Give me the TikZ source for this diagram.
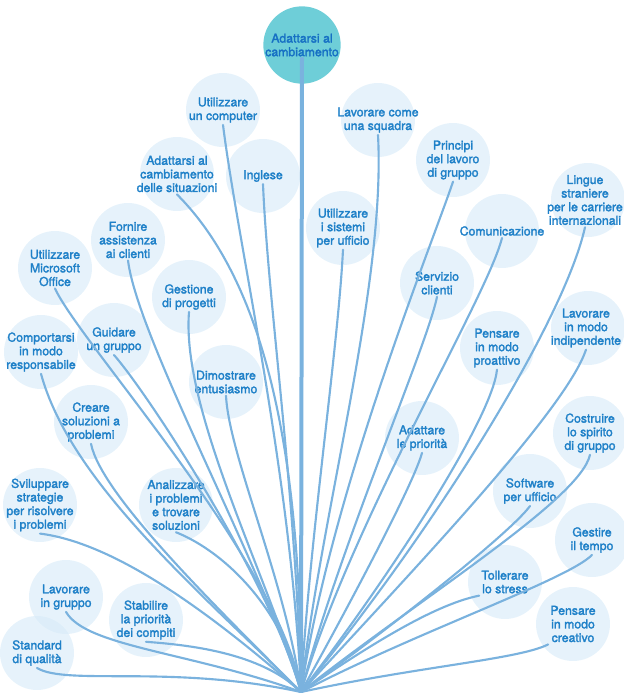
\documentclass[tikz,border=0pt]{standalone}
\usepackage{fontspec}
\setmainfont{TeX Gyre Heros}
\newfontfamily\bubblefont{TeX Gyre Heros}[FakeBold=2]
\usepackage{tikz}

\definecolor{bubblefill}{RGB}{214,234,248}
\definecolor{twigblue}{RGB}{122,178,222}
\definecolor{labelblue}{RGB}{30,128,200}
\definecolor{rootteal}{RGB}{110,206,216}
\definecolor{rootlabel}{RGB}{22,112,196}

\tikzset{
  bubble/.style={circle, fill=bubblefill, fill opacity=0.6, minimum size=55.5pt, inner sep=0pt},
  topbubble/.style={circle, fill=rootteal, minimum size=58pt, inner sep=0pt},
  caption/.style={align=center, text=labelblue, inner sep=1.5pt, font=\bubblefont\fontsize{9.2}{10.2}\selectfont},
  twig/.style={draw=twigblue, line width=1.6pt, line cap=round},
}

\begin{document}
\begin{tikzpicture}[x=0.75pt,y=0.75pt,yscale=-1,xscale=1]
\useasboundingbox (0,0) rectangle (624,693);

\coordinate (root) at (301,692);

%Shape: Circle
\node[topbubble] (adapt) at (302,45) {};
\node[bubble] (comp) at (223,110) {};
\node[bubble] (sit) at (177,174) {};
\node[bubble] (engl) at (263,176) {};
\node[bubble] (squad) at (378,120) {};
\node[bubble] (princ) at (453,160) {};
\node[bubble] (ling) at (588,200) {};
\node[bubble] (assist) at (128,240) {};
\node[bubble] (sist) at (343,228) {};
\node[bubble] (comun) at (502,231) {};
\node[bubble] (msoff) at (55,268) {};
\node[bubble] (gest) at (189,297) {};
\node[bubble] (serv) at (437,283) {};
\node[bubble] (indip) at (588,328) {};
\node[bubble] (guid) at (114,340) {};
\node[bubble] (compor) at (41,352) {};
\node[bubble] (proatt) at (497,348) {};
\node[bubble] (entus) at (226,382) {};
\node[bubble] (creare) at (91,422) {};
\node[bubble] (adprio) at (422,438) {};
\node[bubble] (spirito) at (590,433) {};
\node[bubble] (svil) at (40,505) {};
\node[bubble] (anal) at (176,505) {};
\node[bubble] (softw) at (530,491) {};
\node[bubble] (tempo) at (592,540) {};
\node[bubble] (stress) at (505,582) {};
\node[bubble] (lavgr) at (66,597) {};
\node[bubble] (stab) at (146,620) {};
\node[bubble] (qual) at (37,653) {};
\node[bubble] (creat) at (573,624) {};

% Text Node
\node[caption, text=rootlabel] (adapt-t) at (adapt) {Adattarsi al\\cambiamento};
\node[caption] (comp-t) at (comp) {Utilizzare\\un computer};
\node[caption] (sit-t) at (sit) {Adattarsi al\\cambiamento\\delle situazioni};
\node[caption] (engl-t) at (engl) {Inglese};
\node[caption] (squad-t) at (squad) {Lavorare come\\una squadra};
\node[caption] (princ-t) at (princ) {Principi\\del lavoro\\di gruppo};
\node[caption] (ling-t) at (585,200) {Lingue\\straniere\\per le carriere\\internazionali};
\node[caption] (assist-t) at (assist) {Fornire\\assistenza\\ai clienti};
\node[caption] (sist-t) at (sist) {Utilizzare\\i sistemi\\per ufficio};
\node[caption] (comun-t) at (comun) {Comunicazione};
\node[caption] (msoff-t) at (msoff) {Utilizzare\\Microsoft\\Office};
\node[caption] (gest-t) at (gest) {Gestione\\di progetti};
\node[caption] (serv-t) at (serv) {Servizio\\clienti};
\node[caption] (indip-t) at (586,328) {Lavorare\\in modo\\indipendente};
\node[caption] (guid-t) at (guid) {Guidare\\un gruppo};
\node[caption] (compor-t) at (compor) {Comportarsi\\in modo\\responsabile};
\node[caption] (proatt-t) at (proatt) {Pensare\\in modo\\proattivo};
\node[caption] (entus-t) at (entus) {Dimostrare\\entusiasmo};
\node[caption] (creare-t) at (creare) {Creare\\soluzioni a\\problemi};
\node[caption] (adprio-t) at (adprio) {Adattare\\le priorità};
\node[caption] (spirito-t) at (spirito) {Costruire\\lo spirito\\di gruppo};
\node[caption] (svil-t) at (svil) {Sviluppare\\strategie\\per risolvere\\i problemi};
\node[caption] (anal-t) at (anal) {Analizzare\\i problemi\\e trovare\\soluzioni};
\node[caption] (softw-t) at (softw) {Software\\per ufficio};
\node[caption] (tempo-t) at (tempo) {Gestire\\il tempo};
\node[caption] (stress-t) at (stress) {Tollerare\\lo stress};
\node[caption] (lavgr-t) at (lavgr) {Lavorare\\in gruppo};
\node[caption] (stab-t) at (stab) {Stabilire\\la priorità\\dei compiti};
\node[caption] (qual-t) at (qual) {Standard\\di qualità};
\node[caption] (creat-t) at (creat) {Pensare\\in modo\\creativo};

%Curve Lines: left half
\draw[twig, line width=3pt] (adapt-t.south) -- (root);
\draw[twig] (comp-t.south) .. controls +(15,120) and +(-10,-220) .. (root);
\draw[twig] (sit-t.south) .. controls +(100,100) and +(0,-200) .. (root);
\draw[twig] (engl-t.south) .. controls +(5,120) and +(-5,-200) .. (root);
\draw[twig] (entus-t.south) .. controls +(3,60) and +(-15,-110) .. (root);
\draw[twig] (gest-t.south) .. controls +(-8,100) and +(-30,-110) .. (root);
\draw[twig] (assist-t.south) .. controls +(10,80) and +(-35,-120) .. (root);
\draw[twig] (guid-t.south) .. controls +(35,40) and +(-30,-110) .. (root);
\draw[twig] (msoff-t.south) .. controls +(25,55) and +(-20,-130) .. (root);
\draw[twig] (creare-t.south) .. controls +(10,50) and +(-90,-90) .. (root);
\draw[twig] (compor-t.south) .. controls +(30,110) and +(-100,-100) .. (root);
\draw[twig] (anal-t.south) .. controls +(50,20) and +(-15,-80) .. (root);
\draw[twig] (svil-t.south) .. controls +(80,10) and +(-80,-70) .. (root);
\draw[twig] (stab-t.south) .. controls +(40,3) and +(-40,-40) .. (root);
\draw[twig] (lavgr-t.south) .. controls +(20,35) and +(-110,-40) .. (root);
\draw[twig] (qual-t.south) .. controls +(30,18) and +(-130,-28) .. (root);

%Curve Lines: right half
\draw[twig] (squad-t.south) .. controls +(8,150) and +(20,-180) .. (root);
\draw[twig] (sist-t.south) .. controls +(-5,100) and +(8,-150) .. (root);
\draw[twig] (princ-t.south) .. controls +(-20,60) and +(30,-200) .. (root);
\draw[twig] (serv-t.south) .. controls +(-10,50) and +(40,-150) .. (root);
\draw[twig] (comun-t.south) .. controls +(-15,60) and +(50,-170) .. (root);
\draw[twig] (adprio-t.south) .. controls +(-8,30) and +(50,-90) .. (root);
\draw[twig] (ling-t.south) .. controls +(-20,90) and +(140,-170) .. (root);
\draw[twig] (proatt-t.south) .. controls +(-5,50) and +(85,-110) .. (root);
\draw[twig] (indip-t.south) .. controls +(-20,60) and +(115,-125) .. (root);
\draw[twig] (spirito-t.south) .. controls +(-10,45) and +(120,-95) .. (root);
\draw[twig] (softw-t.south) .. controls +(-18,25) and +(100,-72) .. (root);
\draw[twig] (tempo-t.south) .. controls +(-25,25) and +(115,-60) .. (root);
\draw[twig] (stress-t.south west) .. controls +(-40,8) and +(80,-55) .. (root);
\draw[twig] (creat-t.south west) .. controls +(-30,15) and +(120,-26) .. (root);
\end{tikzpicture}
\end{document}
